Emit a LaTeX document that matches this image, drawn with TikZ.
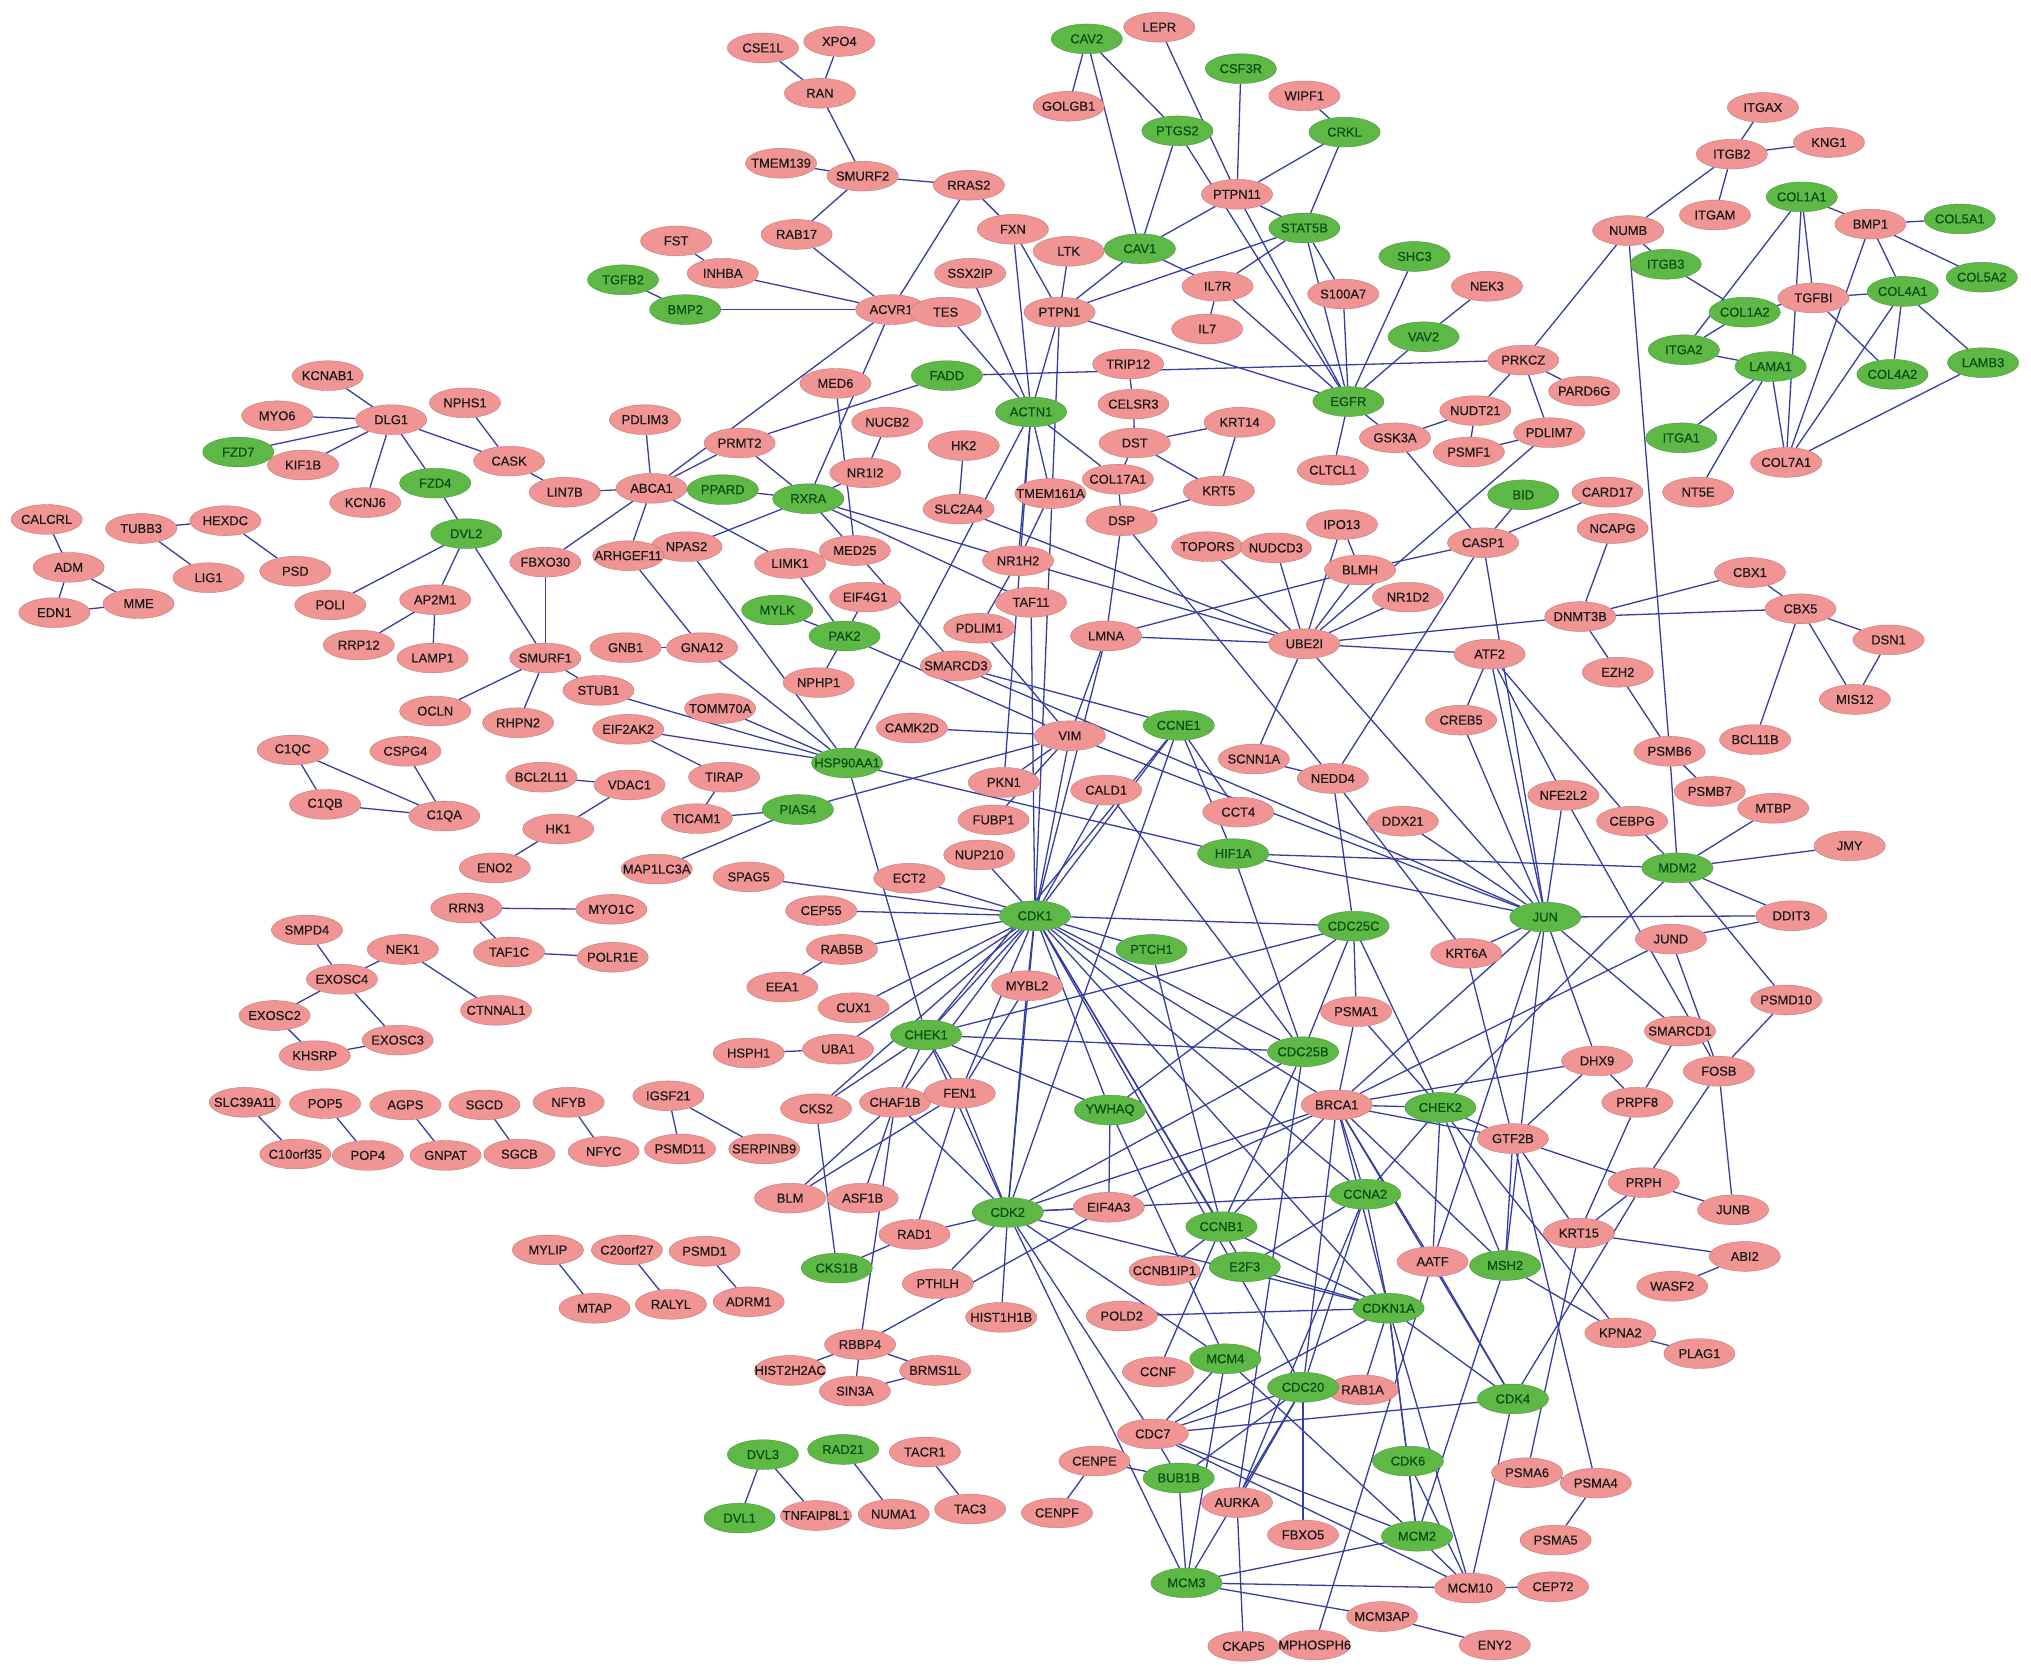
\documentclass[tikz,border=0pt]{standalone}
\usepackage{fontspec}
\setmainfont{Liberation Sans}
\newfontfamily\nodefont[FakeBold=0.35]{Liberation Sans}
\usetikzlibrary{shapes.geometric}
\definecolor{pinkfill}{RGB}{241,148,148}
\definecolor{greenfill}{RGB}{94,184,70}
\definecolor{greentext}{RGB}{8,80,18}
\definecolor{edgeblue}{RGB}{52,62,162}
\pgfdeclarelayer{bgw}
\pgfdeclarelayer{edges}
\pgfsetlayers{bgw,edges,main}
\tikzset{
 nodebase/.style={ellipse, minimum width=55pt, minimum height=23pt, inner sep=0pt, font=\nodefont\fontsize{10}{11}\selectfont},
 pk/.style={nodebase, fill=pinkfill, draw=pinkfill!80!black, line width=0.3pt, text=black!90},
 gr/.style={nodebase, fill=greenfill, draw=greenfill!80!black, line width=0.3pt, text=greentext},
 edge/.style={draw=edgeblue, line width=1pt}
}
\newcommand\mkP[3]{\node[pk] (#1) at (#2,#3) {\makebox[0pt]{#1}};}
\newcommand\mkG[3]{\node[gr] (#1) at (#2,#3) {\makebox[0pt]{#1}};}
\begin{document}
\begin{tikzpicture}[x=1pt,y=-1pt]
\begin{pgfonlayer}{bgw}
\fill[white] (0,0) rectangle (1568,1293);
\end{pgfonlayer}
\useasboundingbox (0,0) rectangle (1568,1293);
% ---- pink nodes
\mkP{KCNAB1}{253}{290}
\mkP{MYO6}{214}{321}
\mkP{DLG1}{302}{324}
\mkP{NPHS1}{359}{311}
\mkP{KIF1B}{234}{359}
\mkP{CASK}{393}{356}
\mkP{KCNJ6}{282}{388}
\mkP{CALCRL}{36}{401}
\mkP{TUBB3}{109}{408}
\mkP{HEXDC}{174}{402}
\mkP{ADM}{53}{438}
\mkP{LIG1}{161}{446}
\mkP{PSD}{228}{441}
\mkP{MME}{107}{466}
\mkP{EDN1}{42}{473}
\mkP{POLI}{255}{467}
\mkP{AP2M1}{336}{463}
\mkP{RRP12}{277}{498}
\mkP{LAMP1}{334}{508}
\mkP{OCLN}{336}{549}
\mkP{RHPN2}{400}{558}
\mkP{C1QC}{226}{579}
\mkP{CSPG4}{313}{580}
\mkP{C1QB}{251}{621}
\mkP{C1QA}{343}{630}
\mkP{ENO2}{382}{670}
\mkP{RRN3}{360}{701}
\mkP{SMPD4}{237}{718}
\mkP{NEK1}{311}{733}
\mkP{TAF1C}{393}{735}
\mkP{EXOSC4}{264}{756}
\mkP{CTNNAL1}{383}{780}
\mkP{EXOSC2}{212}{784}
\mkP{EXOSC3}{307}{803}
\mkP{KHSRP}{243}{815}
\mkP{SLC39A11}{189}{851}
\mkP{POP5}{251}{852}
\mkP{AGPS}{313}{853}
\mkP{SGCD}{374}{853}
\mkP{C10orf35}{228}{891}
\mkP{POP4}{284}{892}
\mkP{GNPAT}{344}{892}
\mkP{SGCB}{401}{891}
\mkP{CSE1L}{589}{37}
\mkP{XPO4}{648}{32}
\mkP{RAN}{633}{72}
\mkP{TMEM139}{603}{126}
\mkP{SMURF2}{666}{136}
\mkP{RRAS2}{748}{143}
\mkP{RAB17}{615}{181}
\mkP{FST}{522}{186}
\mkP{INHBA}{558}{211}
\mkP{ACVR1}{688}{239}
\mkP{TES}{730}{241}
\mkP{SSX2IP}{749}{211}
\mkP{FXN}{782}{177}
\mkP{LEPR}{895}{21}
\mkP{GOLGB1}{825}{82}
\mkP{WIPF1}{1007}{74}
\mkP{PTPN11}{955}{150}
\mkP{LTK}{825}{194}
\mkP{IL7R}{940}{221}
\mkP{NEK3}{1148}{221}
\mkP{S100A7}{1037}{227}
\mkP{PTPN1}{818}{241}
\mkP{IL7}{932}{254}
\mkP{TRIP12}{871}{281}
\mkP{PRKCZ}{1176}{278}
\mkP{PARD6G}{1223}{302}
\mkP{PDLIM7}{1196}{334}
\mkP{CELSR3}{875}{312}
\mkP{NUDT21}{1139}{317}
\mkP{KRT14}{957}{326}
\mkP{DST}{876}{342}
\mkP{GSK3A}{1077}{338}
\mkP{PSMF1}{1134}{349}
\mkP{CLTCL1}{1029}{363}
\mkP{COL17A1}{863}{370}
\mkP{KRT5}{941}{379}
\mkP{TMEM161A}{811}{381}
\mkP{DSP}{866}{402}
\mkP{IPO13}{1036}{405}
\mkP{CASP1}{1145}{419}
\mkP{TOPORS}{932}{422}
\mkP{NUDCD3}{985}{423}
\mkP{CARD17}{1241}{380}
\mkP{NCAPG}{1245}{408}
\mkP{MED6}{645}{296}
\mkP{PDLIM3}{498}{324}
\mkP{NUCB2}{685}{326}
\mkP{HK2}{744}{344}
\mkP{PRMT2}{571}{342}
\mkP{NR1I2}{668}{365}
\mkP{LIN7B}{436}{380}
\mkP{ABCA1}{503}{377}
\mkP{SLC2A4}{740}{393}
\mkP{MED25}{660}{425}
\mkP{NPAS2}{530}{422}
\mkP{ARHGEF11}{485}{429}
\mkP{LIMK1}{610}{435}
\mkP{FBXO30}{421}{434}
\mkP{NR1H2}{786}{433}
\mkP{TAF11}{796}{465}
\mkP{LMNA}{854}{491}
\mkP{UBE2I}{1007}{497}
\mkP{BLMH}{1050}{440}
\mkP{NR1D2}{1087}{461}
\mkP{ATF2}{1150}{505}
\mkP{CREB5}{1128}{556}
\mkP{SMURF1}{421}{508}
\mkP{GNB1}{483}{500}
\mkP{GNA12}{542}{500}
\mkP{STUB1}{462}{533}
\mkP{EIF4G1}{668}{461}
\mkP{NPHP1}{632}{527}
\mkP{SMARCD3}{738}{514}
\mkP{PDLIM1}{756}{485}
\mkP{TOMM70A}{556}{547}
\mkP{EIF2AK2}{485}{563}
\mkP{CAMK2D}{704}{562}
\mkP{BCL2L11}{418}{600}
\mkP{VDAC1}{486}{606}
\mkP{TIRAP}{559}{600}
\mkP{PKN1}{775}{604}
\mkP{TICAM1}{538}{632}
\mkP{FUBP1}{767}{633}
\mkP{HK1}{431}{640}
\mkP{MAP1LC3A}{507}{671}
\mkP{NUP210}{756}{660}
\mkP{SPAG5}{578}{677}
\mkP{ECT2}{702}{678}
\mkP{MYO1C}{472}{702}
\mkP{CEP55}{634}{703}
\mkP{POLR1E}{473}{739}
\mkP{RAB5B}{650}{733}
\mkP{EEA1}{604}{762}
\mkP{CUX1}{659}{778}
\mkP{UBA1}{647}{810}
\mkP{HSPH1}{578}{813}
\mkP{IGSF21}{516}{846}
\mkP{NFYB}{439}{851}
\mkP{CKS2}{630}{856}
\mkP{CHAF1B}{691}{851}
\mkP{FEN1}{741}{844}
\mkP{MYBL2}{793}{761}
\mkP{VIM}{826}{568}
\mkP{SCNN1A}{968}{586}
\mkP{NEDD4}{1029}{601}
\mkP{CALD1}{854}{610}
\mkP{CCT4}{956}{627}
\mkP{DDX21}{1083}{634}
\mkP{KRT6A}{1132}{736}
\mkP{PSMA1}{1047}{781}
\mkP{BRCA1}{1032}{853}
\mkP{CBX1}{1351}{442}
\mkP{DNMT3B}{1220}{476}
\mkP{CBX5}{1390}{470}
\mkP{DSN1}{1458}{494}
\mkP{EZH2}{1249}{519}
\mkP{MIS12}{1432}{540}
\mkP{BCL11B}{1355}{571}
\mkP{PSMB6}{1289}{580}
\mkP{PSMB7}{1320}{611}
\mkP{NFE2L2}{1207}{614}
\mkP{MTBP}{1369}{624}
\mkP{CEBPG}{1260}{634}
\mkP{JMY}{1428}{653}
\mkP{DDIT3}{1383}{707}
\mkP{JUND}{1290}{725}
\mkP{PSMD10}{1379}{772}
\mkP{SMARCD1}{1297}{796}
\mkP{DHX9}{1233}{819}
\mkP{FOSB}{1327}{827}
\mkP{PRPF8}{1264}{851}
\mkP{GTF2B}{1168}{879}
\mkP{PRPH}{1269}{913}
\mkP{JUNB}{1338}{934}
\mkP{KRT15}{1219}{952}
\mkP{ABI2}{1347}{970}
\mkP{WASF2}{1291}{993}
\mkP{KPNA2}{1251}{1029}
\mkP{PLAG1}{1312}{1045}
\mkP{PSMA6}{1179}{1137}
\mkP{PSMA4}{1232}{1145}
\mkP{PSMA5}{1201}{1189}
\mkP{CEP72}{1199}{1225}
\mkP{NFYC}{466}{889}
\mkP{PSMD11}{525}{887}
\mkP{SERPINB9}{590}{887}
\mkP{BLM}{610}{925}
\mkP{ASF1B}{666}{925}
\mkP{RAD1}{706}{953}
\mkP{PTHLH}{724}{991}
\mkP{HIST1H1B}{773}{1017}
\mkP{RBBP4}{664}{1038}
\mkP{HIST2H2AC}{610}{1058}
\mkP{BRMS1L}{722}{1058}
\mkP{SIN3A}{660}{1074}
\mkP{MYLIP}{423}{965}
\mkP{C20orf27}{484}{965}
\mkP{PSMD1}{544}{966}
\mkP{MTAP}{459}{1010}
\mkP{RALYL}{518}{1007}
\mkP{ADRM1}{578}{1005}
\mkP{TACR1}{714}{1121}
\mkP{TNFAIP8L1}{630}{1170}
\mkP{NUMA1}{690}{1169}
\mkP{TAC3}{749}{1165}
\mkP{EIF4A3}{856}{932}
\mkP{CCNB1IP1}{899}{981}
\mkP{AATF}{1106}{974}
\mkP{POLD2}{866}{1016}
\mkP{CCNF}{894}{1059}
\mkP{RAB1A}{1052}{1073}
\mkP{CDC7}{890}{1107}
\mkP{CENPE}{845}{1128}
\mkP{AURKA}{955}{1160}
\mkP{CENPF}{816}{1168}
\mkP{FBXO5}{1006}{1185}
\mkP{MCM10}{1135}{1226}
\mkP{MCM3AP}{1067}{1248}
\mkP{CKAP5}{960}{1271}
\mkP{MPHOSPH6}{1015}{1270}
\mkP{ENY2}{1154}{1270}
\mkP{ITGAX}{1361}{83}
\mkP{KNG1}{1412}{110}
\mkP{ITGB2}{1337}{119}
\mkP{ITGAM}{1324}{166}
\mkP{NUMB}{1257}{178}
\mkP{BMP1}{1444}{173}
\mkP{TGFBI}{1400}{230}
\mkP{COL7A1}{1379}{357}
\mkP{NT5E}{1311}{380}
% ---- green nodes
\mkG{FZD7}{184}{349}
\mkG{FZD4}{336}{373}
\mkG{DVL2}{360}{412}
\mkG{TGFB2}{481}{216}
\mkG{BMP2}{529}{239}
\mkG{CAV2}{839}{30}
\mkG{CSF3R}{958}{53}
\mkG{PTGS2}{909}{101}
\mkG{CRKL}{1038}{102}
\mkG{STAT5B}{1007}{176}
\mkG{CAV1}{880}{192}
\mkG{SHC3}{1092}{198}
\mkG{VAV2}{1099}{260}
\mkG{EGFR}{1041}{310}
\mkG{FADD}{731}{290}
\mkG{ACTN1}{796}{318}
\mkG{PPARD}{558}{378}
\mkG{RXRA}{624}{385}
\mkG{MYLK}{600}{471}
\mkG{PAK2}{652}{491}
\mkG{HSP90AA1}{654}{589}
\mkG{PIAS4}{616}{625}
\mkG{CCNE1}{910}{560}
\mkG{HIF1A}{952}{659}
\mkG{CDK1}{799}{707}
\mkG{PTCH1}{889}{733}
\mkG{CDC25C}{1045}{715}
\mkG{JUN}{1193}{708}
\mkG{MDM2}{1295}{670}
\mkG{CHEK1}{715}{799}
\mkG{CDC25B}{1006}{812}
\mkG{YWHAQ}{857}{857}
\mkG{CHEK2}{1112}{855}
\mkG{CCNA2}{1054}{922}
\mkG{CDK2}{778}{936}
\mkG{CCNB1}{943}{947}
\mkG{E2F3}{961}{978}
\mkG{CKS1B}{646}{979}
\mkG{MSH2}{1162}{977}
\mkG{CDKN1A}{1072}{1010}
\mkG{MCM4}{946}{1049}
\mkG{CDC20}{1006}{1071}
\mkG{CDK4}{1168}{1080}
\mkG{CDK6}{1087}{1128}
\mkG{BUB1B}{910}{1141}
\mkG{MCM2}{1094}{1186}
\mkG{MCM3}{916}{1222}
\mkG{DVL3}{589}{1123}
\mkG{RAD21}{651}{1119}
\mkG{DVL1}{571}{1172}
\mkG{BID}{1176}{382}
\mkG{COL1A1}{1391}{152}
\mkG{COL5A1}{1513}{169}
\mkG{ITGB3}{1286}{204}
\mkG{COL5A2}{1530}{214}
\mkG{COL4A1}{1469}{225}
\mkG{COL1A2}{1347}{241}
\mkG{ITGA2}{1300}{270}
\mkG{LAMA1}{1367}{283}
\mkG{COL4A2}{1461}{289}
\mkG{LAMB3}{1531}{280}
\mkG{ITGA1}{1298}{338}
% ---- edges
\begin{pgfonlayer}{edges}
\foreach \a/\b in {KCNAB1/DLG1, MYO6/DLG1, FZD7/DLG1, KIF1B/DLG1, KCNJ6/DLG1, DLG1/FZD4, DLG1/CASK, NPHS1/CASK, CASK/LIN7B, FZD4/DVL2, DVL2/POLI, DVL2/AP2M1, DVL2/SMURF1, AP2M1/RRP12, AP2M1/LAMP1, CALCRL/ADM, ADM/MME, ADM/EDN1, EDN1/MME, TUBB3/HEXDC, TUBB3/LIG1, HEXDC/PSD,
C1QC/C1QB, C1QC/C1QA, CSPG4/C1QA, C1QB/C1QA, ENO2/HK1, HK1/VDAC1, BCL2L11/VDAC1, RRN3/MYO1C, RRN3/TAF1C, TAF1C/POLR1E, SMPD4/EXOSC4, NEK1/EXOSC4, NEK1/CTNNAL1, EXOSC4/EXOSC2, EXOSC4/EXOSC3, EXOSC2/KHSRP, KHSRP/EXOSC3, SLC39A11/C10orf35, POP5/POP4, AGPS/GNPAT, SGCD/SGCB, NFYB/NFYC, IGSF21/PSMD11, IGSF21/SERPINB9, MYLIP/MTAP, C20orf27/RALYL, PSMD1/ADRM1, DVL3/DVL1, DVL3/TNFAIP8L1, RAD21/NUMA1, TACR1/TAC3,
CSE1L/RAN, XPO4/RAN, RAN/SMURF2, TMEM139/SMURF2, SMURF2/RRAS2, SMURF2/RAB17, RAB17/ACVR1, RRAS2/ACVR1, RRAS2/FXN, FST/INHBA, INHBA/ACVR1, TGFB2/BMP2, BMP2/ACVR1, ACVR1/ABCA1, ACVR1/RXRA, TES/ACTN1, SSX2IP/ACTN1, FXN/ACTN1, FXN/PTPN1, LTK/PTPN1, FADD/PRKCZ, FADD/PRMT2,
CAV2/GOLGB1, CAV2/PTGS2, CAV2/CAV1, LEPR/PTPN11, CSF3R/PTPN11, WIPF1/CRKL, CRKL/PTPN11, CRKL/STAT5B, PTGS2/CAV1, PTGS2/EGFR, PTPN11/CAV1, PTPN11/STAT5B, PTPN11/EGFR, STAT5B/PTPN1, STAT5B/IL7R, STAT5B/S100A7, STAT5B/EGFR, CAV1/PTPN1, CAV1/IL7R, IL7R/IL7, IL7R/EGFR, S100A7/EGFR, SHC3/EGFR, NEK3/VAV2, VAV2/EGFR, PTPN1/EGFR, PTPN1/ACTN1, PTPN1/CDK1, EGFR/CLTCL1, EGFR/GSK3A, GSK3A/NUDT21, NUDT21/PSMF1, NUDT21/PRKCZ, GSK3A/CASP1, PRKCZ/PARD6G, PRKCZ/PDLIM7, PDLIM7/PSMF1, PDLIM7/UBE2I, TRIP12/CELSR3, CELSR3/DST, DST/KRT14, DST/KRT5, DST/COL17A1, KRT14/KRT5, KRT5/DSP, COL17A1/DSP, COL17A1/ACTN1, ACTN1/TMEM161A, ACTN1/NR1H2, TMEM161A/NR1H2, ACTN1/HSP90AA1, ACTN1/PKN1, HK2/SLC2A4, DSP/LMNA, DSP/NEDD4,
LIN7B/ABCA1, ABCA1/PDLIM3, ABCA1/PRMT2, ABCA1/FBXO30, ABCA1/ARHGEF11, ABCA1/LIMK1, PRMT2/RXRA, PPARD/RXRA, MED6/MED25, NUCB2/NR1I2, NR1I2/RXRA, RXRA/MED25, RXRA/NPAS2, RXRA/NR1H2, RXRA/TAF11, NR1H2/UBE2I, NR1H2/PDLIM1, SLC2A4/UBE2I, FBXO30/SMURF1, SMURF1/OCLN, SMURF1/RHPN2, SMURF1/STUB1, GNB1/GNA12, ARHGEF11/GNA12, GNA12/HSP90AA1, NPAS2/HSP90AA1, STUB1/HSP90AA1, TOMM70A/HSP90AA1, EIF2AK2/HSP90AA1, EIF2AK2/TIRAP, TIRAP/TICAM1, TICAM1/PIAS4, PIAS4/MAP1LC3A, PIAS4/VIM, MYLK/PAK2, LIMK1/PAK2, EIF4G1/PAK2, PAK2/NPHP1, PAK2/VIM, MED25/SMARCD3, SMARCD3/CCNE1, SMARCD3/JUN, CAMK2D/VIM, PDLIM1/VIM, HSP90AA1/HIF1A, HSP90AA1/CHEK1,
TOPORS/UBE2I, NUDCD3/UBE2I, IPO13/UBE2I, IPO13/BLMH, BLMH/UBE2I, LMNA/BLMH, NR1D2/UBE2I, LMNA/UBE2I, UBE2I/DNMT3B, UBE2I/ATF2, UBE2I/SCNN1A, UBE2I/JUN, BLMH/CASP1, BID/CASP1, CARD17/CASP1, CASP1/NEDD4, CASP1/JUN, ATF2/CREB5, ATF2/JUN, ATF2/NFE2L2, ATF2/CEBPG, CREB5/JUN, SCNN1A/NEDD4, NEDD4/CDC25C, NEDD4/KRT6A, DDX21/JUN, KRT6A/GTF2B, KRT6A/JUN,
LMNA/VIM, LMNA/CDK1, VIM/CDK1, PKN1/VIM, FUBP1/VIM, VIM/JUN, TAF11/CDK1, CALD1/CDK1, CALD1/CDC25B, CCNE1/CDK1, CCNE1/CDK2, CCNE1/HIF1A, CCNE1/CCT4, CCNE1/CHEK1, HIF1A/MDM2, HIF1A/JUN, HIF1A/CDC25B,
NUP210/CDK1, SPAG5/CDK1, CEP55/CDK1, ECT2/CDK1, RAB5B/CDK1, RAB5B/EEA1, CUX1/CDK1, UBA1/CDK1, HSPH1/UBA1, CHEK1/CDK1, MYBL2/CDK1, CDK1/CDC25C, CDK1/PTCH1, CDK1/CDC25B, CDK1/BRCA1, CDK1/CCNA2, CDK1/CCNB1, CDK1/E2F3, CDK1/CDKN1A, CDK1/YWHAQ, CDK1/CDK2, CDK1/CHAF1B, CDK1/FEN1, CDK1/CKS2, CDK1/CDC20,
PTCH1/CCNB1, CDC25C/CHEK1, CDC25C/YWHAQ, CDC25C/CDC25B, CDC25C/PSMA1, CDC25C/CHEK2, PSMA1/BRCA1, PSMA1/CHEK2, CHEK1/CDC25B, CHEK1/YWHAQ, CHEK1/CKS2, CHEK1/CHAF1B, CHEK1/FEN1, CHEK1/CDK2,
CKS2/CKS1B, CHAF1B/BLM, FEN1/BLM, CHAF1B/ASF1B, CHAF1B/RBBP4, CHAF1B/CDK2, FEN1/RAD1, FEN1/CDK2, FEN1/MYBL2, RAD1/CDK2, RAD1/CKS1B, CDK2/PTHLH, CDK2/HIST1H1B, RBBP4/EIF4A3, RBBP4/HIST2H2AC, RBBP4/SIN3A, RBBP4/BRMS1L, SIN3A/BRMS1L, MYBL2/CDK2,
CDK2/EIF4A3, CDK2/CCNA2, CDK2/BRCA1, CDK2/CDKN1A, CDK2/MCM4, CDK2/CDC7, CDK2/MCM3, CDC25B/CDK2, YWHAQ/EIF4A3, YWHAQ/MCM4, CDC25B/CCNB1, CDC25B/AURKA,
EIF4A3/BRCA1, BRCA1/CCNA2, BRCA1/CHEK2, BRCA1/GTF2B, BRCA1/CDKN1A, BRCA1/AATF, BRCA1/MSH2, BRCA1/CCNB1, BRCA1/CDC20, BRCA1/CDK4, BRCA1/JUN, JUND/BRCA1, DHX9/BRCA1,
CCNB1/CCNB1IP1, CCNB1/CCNF, CCNB1/CDKN1A, CCNA2/E2F3, CCNA2/CDC20, CCNA2/AURKA, CCNA2/CDKN1A, CCNA2/CHEK2, E2F3/CDKN1A,
CDKN1A/POLD2, CDKN1A/CDC7, CDKN1A/RAB1A, CDKN1A/CDK6, CDKN1A/MCM10, CDKN1A/CDK4, CDKN1A/MCM2,
CDC20/BUB1B, CDC20/MCM3, CDC20/FBXO5, CDC20/CDC7, CDC20/AURKA,
MCM4/CDC7, MCM4/MCM3, MCM4/MCM2, CDC7/CDK4, CDC7/MCM2, CDC7/MCM10, CDC7/BUB1B, CENPE/BUB1B, CENPE/CENPF, BUB1B/MCM3, AURKA/CKAP5, MCM3/MCM2, MCM3/MCM10, MCM3/MCM3AP, MCM3AP/ENY2, MPHOSPH6/AATF, AATF/CDK4, CDK6/MCM2, CDK6/MCM10, MCM2/MCM10, MCM2/MSH2, MCM10/CEP72, MCM10/CDK4,
CHEK2/GTF2B, CHEK2/MSH2, CHEK2/AATF, CHEK2/KPNA2, MDM2/CHEK2, MSH2/KPNA2, MSH2/GTF2B, GTF2B/PRPH, GTF2B/KRT15, GTF2B/PSMA4, KRT15/PRPH, KRT15/ABI2, ABI2/WASF2, KPNA2/PLAG1, PRPH/CDK4, PRPH/JUNB, FOSB/PRPH, FOSB/JUNB, KRT15/PSMA6, PSMA6/PSMA4, PSMA4/PSMA5, PRPF8/KRT15, DHX9/PRPF8, DHX9/GTF2B, JUN/DHX9, JUN/SMARCD1, SMARCD1/PRPF8, JUN/NFE2L2, JUN/DDIT3, JUN/MSH2, JUN/AATF, NFE2L2/FOSB, JUND/DDIT3, JUND/FOSB, PSMD10/FOSB, MDM2/CEBPG, MDM2/PSMB6, MDM2/MTBP, MDM2/JMY, MDM2/DDIT3, MDM2/PSMD10, PSMB6/PSMB7, PSMB6/EZH2, NUMB/PSMB6, DNMT3B/CBX1, DNMT3B/CBX5, DNMT3B/EZH2, DNMT3B/NCAPG, CBX1/CBX5, CBX5/DSN1, CBX5/MIS12, CBX5/BCL11B, DSN1/MIS12,
NUMB/ITGB2, NUMB/ITGB3, NUMB/PRKCZ, ITGB2/ITGAX, ITGB2/KNG1, ITGB2/ITGAM, ITGB3/COL1A2, COL1A1/BMP1, COL1A1/ITGA2, COL1A1/TGFBI, COL1A1/COL7A1, BMP1/COL5A1, BMP1/COL5A2, BMP1/COL4A1, BMP1/COL7A1, TGFBI/COL1A2, TGFBI/COL4A1, TGFBI/COL4A2, COL4A1/COL4A2, COL4A1/LAMB3, COL4A1/COL7A1, COL1A2/ITGA2, ITGA2/LAMA1, LAMA1/ITGA1, LAMA1/NT5E, LAMA1/COL7A1, LAMB3/COL7A1}
  \draw[edge] (\a) -- (\b);
\end{pgfonlayer}
\end{tikzpicture}
\end{document}
